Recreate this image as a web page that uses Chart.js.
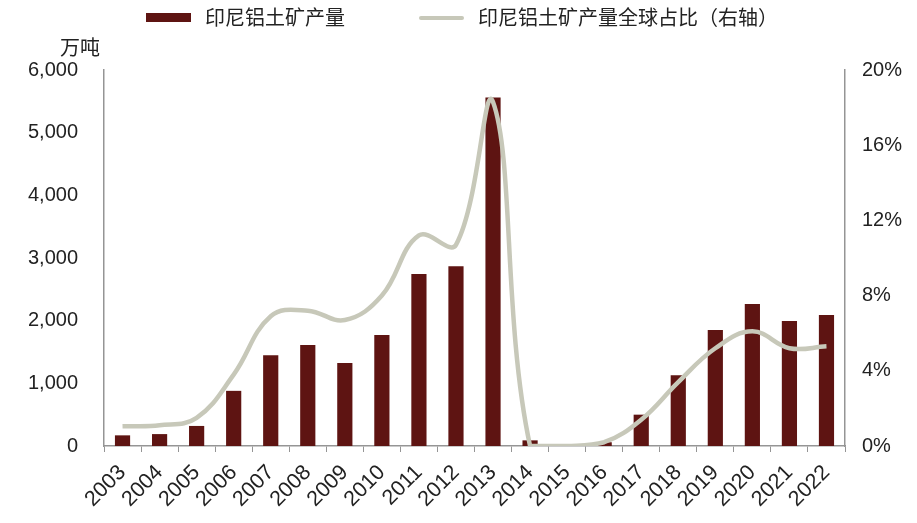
<!DOCTYPE html>
<html>
<head>
<meta charset="utf-8">
<script src="https://cdn.jsdelivr.net/npm/chart.js@4"></script>
<style>
  body { margin: 0; background: #fff; }
  #wrap { position: relative; width: 917px; height: 523px; }
</style>
</head>
<body>
<div id="wrap"><canvas id="bauxite"></canvas></div>
<script>
// Indonesia bauxite output vs global share

const years = ['2003', '2004', '2005', '2006', '2007', '2008', '2009', '2010', '2011', '2012',
  '2013', '2014', '2015', '2016', '2017', '2018', '2019', '2020', '2021', '2022'];
const output = [170, 190, 320, 880, 1450, 1610, 1325, 1770, 2745, 2870,
  5560, 90, 0, 60, 500, 1130, 1850, 2265, 1995, 2090];
const share = [1.05, 1.1, 1.5, 3.8, 6.9, 7.2, 6.7, 8.0, 11.2, 10.7,
  18.3, 0, 0, 0.2, 1.4, 3.4, 5.2, 6.1, 5.2, 5.3];
const leftTicks = [0, 6000, 1000];
const rightTicks = [0, 20, 4];

const barRed = '#5e1412';
const lineGrey = '#c7c8b9';
const axisGrey = '#959595';
const font = "Arial, 'Liberation Sans', 'Noto Sans CJK SC', sans-serif";
const cjk = "'Noto Sans CJK SC', sans-serif";

// legend along the top + unit label above the left axis
const topLabels = {
  id: 'topLabels',
  afterDraw(chart) {
    const c = chart.ctx;
    const sets = chart.data.datasets;
    c.save();
    c.font = '20px ' + cjk;
    c.textBaseline = 'middle';
    let x = 146;
    const y = 17;
    sets.forEach((ds, i) => {
      if (i === 0) {
        c.fillStyle = ds.backgroundColor;
        c.fillRect(x, y - 4, 45, 9);
      } else {
        c.strokeStyle = ds.borderColor;
        c.lineWidth = 4;
        c.lineCap = 'round';
        c.beginPath();
        c.moveTo(x + 2, y + 1);
        c.lineTo(x + 43, y + 1);
        c.stroke();
      }
      c.fillStyle = '#222';
      c.textAlign = 'left';
      c.fillText(ds.label, x + 59, y);
      x += 59 + c.measureText(ds.label).width + 74;
    });
    const ya = chart.scales.y;
    c.textAlign = 'right';
    c.textBaseline = 'alphabetic';
    c.fillText('万吨', ya.right - 4, chart.chartArea.top - 15);
    c.restore();
  }
};

var ctx = document.getElementById('bauxite').getContext('2d');
var chart = new Chart(ctx, {
  type: 'bar',
  data: {
    labels: years,
    datasets: [{
      label: '印尼铝土矿产量',
      data: output,
      backgroundColor: barRed,
      yAxisID: 'y',
      barPercentage: 0.82,
      categoryPercentage: 0.5,
      order: 2
    }, {
      type: 'line',
      label: '印尼铝土矿产量全球占比（右轴）',
      data: share,
      borderColor: lineGrey,
      backgroundColor: lineGrey,
      borderWidth: 4.5,
      pointRadius: 0,
      tension: 0.4,
      yAxisID: 'y1',
      order: 1
    }]
  },
  options: {
    responsive: true,
    maintainAspectRatio: false,
    animation: false,
    layout: { padding: { left: 0, right: 0, top: 70, bottom: 0 } },
    plugins: {
      tooltip: { enabled: false },
      legend: { display: false }
    },
    scales: {
      x: {
        afterFit(s) { s.height = 77; s.paddingLeft = 0; s.paddingRight = 0; },
        grid: { display: true, drawOnChartArea: false, color: axisGrey, tickLength: 6, offset: true },
        border: { color: axisGrey, width: 1.5 },
        ticks: {
          font: { family: font, size: 21.5 },
          color: '#222',
          autoSkip: false,
          maxRotation: 45,
          minRotation: 45,
          padding: 8
        }
      },
      y: {
        position: 'left',
        afterFit(s) { s.width = 104; },
        min: leftTicks[0],
        max: leftTicks[1],
        grid: { display: false, drawTicks: false },
        border: { color: axisGrey, width: 1.5 },
        ticks: {
          stepSize: leftTicks[2],
          font: { family: font, size: 20 },
          color: '#222',
          padding: 26,
          callback: v => v.toLocaleString('en-US')
        }
      },
      y1: {
        position: 'right',
        afterFit(s) { s.width = 72; },
        min: rightTicks[0],
        max: rightTicks[1],
        grid: { display: false, drawTicks: false },
        border: { color: axisGrey, width: 1.5 },
        ticks: {
          stepSize: rightTicks[2],
          font: { family: font, size: 20 },
          color: '#222',
          padding: 17,
          callback: v => v + '%'
        }
      }
    }
  },
  plugins: [topLabels]
});
</script>
</body>
</html>
